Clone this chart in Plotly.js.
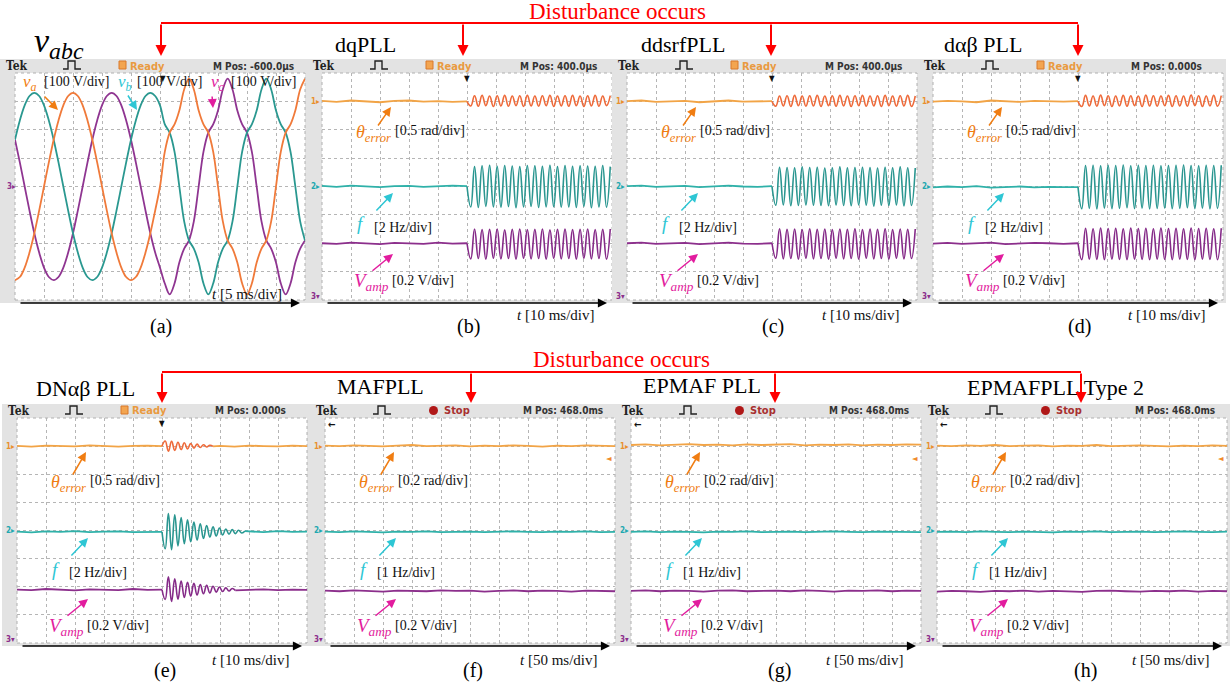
<!DOCTYPE html>
<html>
<head>
<meta charset="utf-8">
<script src="https://cdn.plot.ly/plotly-3.0.1.min.js"></script>
<style>
html,body{margin:0;padding:0;background:#ffffff;overflow:hidden;}
#chart{width:1231px;height:687px;}
</style>
</head>
<body>
<div id="chart"></div>
<script>
// ================= DATA (values in screen divisions) =================
// (a) three-phase voltages, one sample every 1/6 division (5 ms/div)
const va = [-3.30,-3.19,-2.86,-2.33,-1.65,-0.85,0,0.85,1.65,2.33,2.86,3.19,3.30,3.19,2.86,2.33,1.65,0.85,0,-0.85,-1.65,-2.33,-2.86,-3.19,-3.30,-3.19,-2.86,-2.33,-1.65,-0.85,0,
            1.23,1.90,2.19,2.68,3.42,3.80,3.42,2.68,2.19,1.90,1.23,0,-1.23,-1.90,-2.19,-2.68,-3.42,-3.80,-3.42,-2.68,-2.19,-1.90,-1.23,0,1.23,1.90,2.19,2.68,3.42,3.80];
const vb = [1.65,2.33,2.86,3.19,3.30,3.19,2.86,2.33,1.65,0.85,0,-0.85,-1.65,-2.33,-2.86,-3.19,-3.30,-3.19,-2.86,-2.33,-1.65,-0.85,0,0.85,1.65,2.33,2.86,3.19,3.30,3.19,2.86,
            2.19,1.90,1.23,0,-1.23,-1.90,-2.19,-2.68,-3.42,-3.80,-3.42,-2.68,-2.19,-1.90,-1.23,0,1.23,1.90,2.19,2.68,3.42,3.80,3.42,2.68,2.19,1.90,1.23,0,-1.23,-1.90];
const vc = [1.65,0.85,0,-0.85,-1.65,-2.33,-2.86,-3.19,-3.30,-3.19,-2.86,-2.33,-1.65,-0.85,0,0.85,1.65,2.33,2.86,3.19,3.30,3.19,2.86,2.33,1.65,0.85,0,-0.85,-1.65,-2.33,-2.86,
            -3.42,-3.80,-3.42,-2.68,-2.19,-1.90,-1.23,0,1.23,1.90,2.19,2.68,3.42,3.80,3.42,2.68,2.19,1.90,1.23,0,-1.23,-1.90,-2.19,-2.68,-3.42,-3.80,-3.42,-2.68,-2.19,-1.90];

// text content
const panelTags   = ['(a)','(b)','(c)','(d)','(e)','(f)','(g)','(h)'];
const panelTitles = ['dqPLL','ddsrfPLL','dαβ PLL','DNαβ PLL','MAFPLL','EPMAF PLL','EPMAFPLL Type 2'];
const statusText  = ['Ready','Ready','Ready','Ready','Ready','Stop','Stop','Stop'];
const mPosText    = ['M Pos: -600.0µs','M Pos: 400.0µs','M Pos: 400.0µs','M Pos: 0.000s','M Pos: 0.000s','M Pos: 468.0ms','M Pos: 468.0ms','M Pos: 468.0ms'];
const thetaScale  = ['[0.5 rad/div]','[0.5 rad/div]','[0.5 rad/div]','[0.5 rad/div]','[0.2 rad/div]','[0.2 rad/div]','[0.2 rad/div]'];
const freqScale   = ['[2 Hz/div]','[2 Hz/div]','[2 Hz/div]','[2 Hz/div]','[1 Hz/div]','[1 Hz/div]','[1 Hz/div]'];
const ampScale    = ['[0.2 V/div]','[0.2 V/div]','[0.2 V/div]','[0.2 V/div]','[0.2 V/div]','[0.2 V/div]','[0.2 V/div]'];
const timeScale   = ['[10 ms/div]','[10 ms/div]','[10 ms/div]','[10 ms/div]','[50 ms/div]','[50 ms/div]','[50 ms/div]'];
const disturbText = 'Disturbance occurs';

// (b) dqPLL : before (every 0.5 div) / after disturbance (every half period)
const dq_theta_pre  = [3.02,2.98,3.03,3.00,2.97,3.02,3.03,2.99,3.01,2.98,3.00];
const dq_theta_post = [3.00,2.84,3.20,2.83,3.21,2.85,3.19,2.82,3.20,2.84,3.21,2.83,3.19,2.85,3.20,2.82,3.21,2.84,3.19,2.83,3.20,2.85,3.21,2.82,3.19,2.84,3.20,2.83,3.21,2.85,3.19,2.82,3.20,2.84,3.21,2.83,3.19,2.85,3.20];
const dq_f_pre      = [0.02,-0.01,0.03,0.00,-0.02,0.01,0.02,-0.01,0.00,0.03,0.01];
const dq_f_post     = [0.00,-0.72,0.70,-0.74,0.73,-0.70,0.75,-0.72,0.71,-0.73,0.74,-0.71,0.72,-0.75,0.70,-0.72,0.74,-0.70,0.73,-0.74,0.71,-0.72,0.75,-0.71,0.70,-0.73,0.74,-0.72,0.71,-0.74,0.73,-0.70,0.72,-0.75,0.71,-0.72,0.74,-0.73,0.70];
const dq_v_pre      = [-2.00,-2.02,-1.98,-2.01,-2.03,-1.99,-2.00,-2.02,-1.98,-2.01,-2.00];
const dq_v_post     = [-2.00,-2.55,-1.50,-2.54,-1.52,-2.56,-1.51,-2.53,-1.50,-2.55,-1.53,-2.54,-1.51,-2.56,-1.50,-2.53,-1.52,-2.55,-1.51,-2.54,-1.50,-2.56,-1.53,-2.53,-1.51,-2.55,-1.50,-2.54,-1.52,-2.56,-1.51,-2.53,-1.50,-2.55,-1.52,-2.54,-1.51,-2.56,-1.50];
// (c) ddsrfPLL
const dd_theta_pre  = [3.01,3.03,2.98,3.00,3.02,2.97,3.01,3.03,2.99,3.00,3.01];
const dd_theta_post = [3.00,2.83,3.19,2.84,3.20,2.82,3.21,2.85,3.19,2.83,3.20,2.84,3.21,2.82,3.19,2.85,3.20,2.83,3.21,2.84,3.19,2.82,3.20,2.85,3.21,2.83,3.19,2.84,3.20,2.82,3.21,2.85,3.19,2.83,3.20,2.84,3.21,2.82,3.19];
const dd_f_pre      = [0.01,0.03,-0.01,0.00,0.02,-0.02,0.01,0.03,0.00,-0.01,0.01];
const dd_f_post     = [0.00,-0.66,0.68,-0.65,0.67,-0.68,0.66,-0.67,0.69,-0.65,0.67,-0.66,0.68,-0.67,0.65,-0.68,0.66,-0.65,0.69,-0.67,0.66,-0.68,0.67,-0.65,0.68,-0.66,0.67,-0.69,0.65,-0.66,0.68,-0.67,0.66,-0.65,0.69,-0.68,0.66,-0.67,0.65];
const dd_v_pre      = [-2.00,-1.98,-2.02,-2.01,-1.99,-2.03,-2.00,-1.98,-2.01,-2.02,-2.00];
const dd_v_post     = [-2.00,-2.53,-1.49,-2.55,-1.51,-2.54,-1.50,-2.56,-1.52,-2.53,-1.49,-2.55,-1.51,-2.54,-1.50,-2.56,-1.52,-2.53,-1.50,-2.55,-1.51,-2.54,-1.49,-2.56,-1.52,-2.53,-1.50,-2.55,-1.51,-2.54,-1.49,-2.56,-1.52,-2.53,-1.50,-2.55,-1.51,-2.54,-1.50];
// (d) dαβ PLL
const da_theta_pre  = [2.99,3.02,3.00,2.97,3.03,3.01,2.98,3.02,3.00,2.99,3.01];
const da_theta_post = [3.00,2.82,3.21,2.84,3.19,2.83,3.22,2.85,3.20,2.82,3.19,2.84,3.21,2.83,3.20,2.85,3.19,2.82,3.22,2.84,3.20,2.83,3.19,2.85,3.21,2.82,3.20,2.84,3.19,2.83,3.22,2.85,3.20,2.82,3.19,2.84,3.21,2.83,3.20];
const da_f_pre      = [-0.03,0.00,-0.02,0.01,-0.04,-0.01,0.00,-0.03,-0.01,-0.02,-0.02];
const da_f_post     = [-0.02,-0.78,0.74,-0.77,0.75,-0.79,0.73,-0.76,0.75,-0.78,0.74,-0.77,0.76,-0.75,0.73,-0.78,0.75,-0.76,0.74,-0.79,0.75,-0.77,0.73,-0.76,0.74,-0.78,0.75,-0.77,0.76,-0.75,0.74,-0.78,0.73,-0.76,0.75,-0.79,0.74,-0.77,0.75];
const da_v_pre      = [-2.01,-1.99,-2.02,-2.00,-1.98,-2.03,-2.01,-1.99,-2.00,-2.02,-2.00];
const da_v_post     = [-2.00,-2.58,-1.47,-2.56,-1.49,-2.57,-1.46,-2.58,-1.48,-2.56,-1.47,-2.57,-1.49,-2.58,-1.46,-2.56,-1.48,-2.57,-1.47,-2.58,-1.49,-2.56,-1.46,-2.57,-1.48,-2.58,-1.47,-2.56,-1.49,-2.57,-1.46,-2.58,-1.48,-2.56,-1.47,-2.57,-1.49,-2.58,-1.47];
// (e) DNαβ PLL : before / decaying transient / settled
const dn_theta_pre  = [3.01,2.98,3.02,3.00,2.99,3.03,3.00,2.98,3.01,3.02,3.00];
const dn_theta_post = [3.00,3.18,2.82,3.17,2.85,3.14,2.88,3.12,2.90,3.09,2.93,3.07,2.95,3.05,2.97,3.03,2.99];
const dn_theta_tail = [3.01,2.98,3.02,3.00,2.99,3.02,3.00];
const dn_f_pre      = [-0.04,-0.07,-0.03,-0.05,-0.02,-0.06,-0.04,-0.03,-0.06,-0.05,-0.05];
const dn_f_post     = [-0.05,-0.65,0.60,-0.68,0.56,-0.55,0.46,-0.47,0.38,-0.40,0.30,-0.34,0.24,-0.28,0.18,-0.23,0.13,-0.19,0.09,-0.16,0.05,-0.13,0.03,-0.11,0.01,-0.09,-0.02];
const dn_f_tail     = [-0.03,-0.06,-0.02,-0.05,-0.04];
const dn_v_pre      = [-2.10,-2.12,-2.08,-2.11,-2.13,-2.09,-2.10,-2.12,-2.08,-2.11,-2.10];
const dn_v_post     = [-2.10,-2.45,-1.65,-2.52,-1.72,-2.44,-1.80,-2.38,-1.84,-2.33,-1.88,-2.29,-1.92,-2.25,-1.95,-2.22,-1.98,-2.19,-2.01,-2.17,-2.04,-2.15,-2.06,-2.13];
const dn_v_tail     = [-2.11,-2.09,-2.12,-2.10,-2.11];
// (f) MAFPLL (every 0.5 div)
const maf_theta = [3.02,3.00,3.03,3.01,2.99,3.02,3.04,3.00,3.01,3.03,2.99,3.02,3.00,3.03,3.01,2.98,3.02,3.00,3.03,3.01,3.00];
const maf_f     = [-0.04,-0.06,-0.03,-0.05,-0.07,-0.04,-0.05,-0.03,-0.06,-0.05,-0.04,-0.06,-0.05,-0.03,-0.05,-0.06,-0.04,-0.05,-0.03,-0.06,-0.05];
const maf_v     = [-2.14,-2.16,-2.13,-2.15,-2.17,-2.14,-2.15,-2.16,-2.13,-2.15,-2.14,-2.17,-2.15,-2.13,-2.16,-2.14,-2.15,-2.17,-2.14,-2.15,-2.16];
// (g) EPMAF PLL
const ep_theta  = [3.04,3.06,3.03,3.05,3.07,3.04,3.05,3.03,3.06,3.04,3.05,3.07,3.03,3.05,3.04,3.06,3.03,3.05,3.04,3.06,3.05];
const ep_f      = [-0.05,-0.03,-0.06,-0.04,-0.05,-0.07,-0.04,-0.05,-0.03,-0.06,-0.05,-0.04,-0.06,-0.05,-0.03,-0.05,-0.06,-0.04,-0.05,-0.04,-0.06];
const ep_v      = [-2.15,-2.13,-2.16,-2.14,-2.15,-2.17,-2.14,-2.13,-2.16,-2.15,-2.14,-2.16,-2.13,-2.15,-2.17,-2.14,-2.15,-2.13,-2.16,-2.14,-2.15];
// (h) EPMAFPLL Type 2
const ep2_theta = [3.02,3.00,3.03,3.01,3.04,3.00,3.02,3.03,2.99,3.02,3.01,3.04,3.00,3.02,3.03,3.01,2.99,3.02,3.00,3.03,3.01];
const ep2_f     = [-0.05,-0.04,-0.06,-0.03,-0.05,-0.06,-0.04,-0.05,-0.07,-0.04,-0.05,-0.03,-0.06,-0.05,-0.04,-0.06,-0.05,-0.03,-0.05,-0.06,-0.04];
const ep2_v     = [-2.17,-2.15,-2.16,-2.18,-2.15,-2.16,-2.14,-2.17,-2.15,-2.16,-2.18,-2.15,-2.14,-2.16,-2.17,-2.15,-2.16,-2.14,-2.17,-2.15,-2.16];

// ================= GEOMETRY / STYLE =================
const W = 1231, H = 687;
const SERIF = 'Liberation Serif, Times New Roman, serif';
const COND  = 'DejaVu Sans Condensed, DejaVu Sans, sans-serif';
const panels = [
  {gl:15,  gr:305,  gt:73,  gb:300},
  {gl:322, gr:612,  gt:73,  gb:300},
  {gl:627, gr:917,  gt:73,  gb:300},
  {gl:933, gr:1223, gt:73,  gb:300},
  {gl:17,  gr:307,  gt:418, gb:643},
  {gl:325, gr:615,  gt:418, gb:643},
  {gl:631, gr:921,  gt:418, gb:643},
  {gl:937, gr:1227, gt:418, gb:643}
];
const titlePos = [[365,44],[683,44],[983,44],[85,388],[380,386],[702,385],[1055,387]];
const chFlat = ['#f2a446','#2fb1a9','#8c2f8c'];
const chOsc  = ['#ee6a3a','#2a9690','#852a88'];
const labCol = ['#f07d12','#2ec6d4','#e21c9e'];

const pllSeries = [
  {pre:[dq_theta_pre,dq_f_pre,dq_v_pre], post:[dq_theta_post,dq_f_post,dq_v_post], step:0.13},
  {pre:[dd_theta_pre,dd_f_pre,dd_v_pre], post:[dd_theta_post,dd_f_post,dd_v_post], step:0.13},
  {pre:[da_theta_pre,da_f_pre,da_v_pre], post:[da_theta_post,da_f_post,da_v_post], step:0.13},
  {pre:[dn_theta_pre,dn_f_pre,dn_v_pre], post:[dn_theta_post,dn_f_post,dn_v_post], tail:[dn_theta_tail,dn_f_tail,dn_v_tail], step:0.11},
  {flat:[maf_theta,maf_f,maf_v]},
  {flat:[ep_theta,ep_f,ep_v]},
  {flat:[ep2_theta,ep2_f,ep2_v]}
];

// ================= BUILD =================
function xsFrom(start, step, n){ const a=[]; for(let i=0;i<n;i++) a.push(+(start+i*step).toFixed(4)); return a; }
const traces = [];
function seg(sp, xs, ys, color, width, shape, smooth){
  const s = sp===0 ? '' : String(sp+1);
  traces.push({type:'scatter', mode:'lines', x:xs, y:ys, xaxis:'x'+s, yaxis:'y'+s,
    line:{color:color, width:width, shape:shape, smoothing:smooth||1}, hoverinfo:'skip', showlegend:false});
}

// (a)
const kx = xsFrom(0, 1/6, va.length);
seg(0, kx, vc, '#8f3591', 1.8, 'spline');
seg(0, kx, vb, '#2a9890', 1.8, 'spline');
seg(0, kx, va, '#f07a3a', 1.8, 'spline');

// PLL panels
pllSeries.forEach((s, j) => {
  const sp = j + 1;
  if (s.flat) {
    s.flat.forEach((arr, c) => seg(sp, xsFrom(0, 0.5, arr.length), arr, chFlat[c], 1.8, 'linear'));
    return;
  }
  for (let c = 0; c < 3; c++) {
    const pre = s.pre[c], post = s.post[c];
    seg(sp, xsFrom(0, 0.5, pre.length), pre, chFlat[c], 1.8, 'linear');
    const px = xsFrom(5, s.step, post.length);
    seg(sp, px, post, chOsc[c], 1.6, 'spline', 1.3);
    if (s.tail) {
      const t = s.tail[c];
      const tx = xsFrom(10 - 0.5*(t.length-1), 0.5, t.length);
      seg(sp, [px[px.length-1]].concat(tx), [post[post.length-1]].concat(t), chFlat[c], 1.8, 'linear');
    }
  }
});

const layout = {
  width: W, height: H, margin:{l:0,r:0,t:0,b:0,pad:0},
  paper_bgcolor:'#ffffff', plot_bgcolor:'rgba(0,0,0,0)', showlegend:false,
  shapes:[], annotations:[]
};
const S = layout.shapes, A = layout.annotations;
const PX = x => x / W, PY = y => 1 - y / H;

panels.forEach((p, i) => {
  const s = i===0 ? '' : String(i+1);
  const common = {showgrid:true, dtick:1, tick0:0, gridcolor:'#b5b5b5', griddash:'dot', gridwidth:1,
    zeroline:false, showticklabels:false, ticks:'', showline:false, fixedrange:true};
  layout['xaxis'+s] = Object.assign({domain:[PX(p.gl), PX(p.gr)], range:[0,10], anchor:'y'+s}, common);
  layout['yaxis'+s] = Object.assign({domain:[PY(p.gb), PY(p.gt)], range:[-4,4], anchor:'x'+s}, common);
});

function rect(x0,y0,x1,y1,fill,line,layer){
  S.push({type:'rect', xref:'paper', yref:'paper', x0:PX(x0), x1:PX(x1), y0:PY(y1), y1:PY(y0),
    fillcolor:fill, line:line||{width:0}, layer:layer||'below'});
}
function path(pts, color, width, layer){
  const d = pts.map((q,k)=> (k?'L':'M') + PX(q[0]) + ',' + PY(q[1])).join(' ');
  S.push({type:'path', xref:'paper', yref:'paper', path:d, line:{color:color, width:width}, layer:layer||'above'});
}
function txt(x,y,text,size,color,opts){
  A.push(Object.assign({xref:'paper', yref:'paper', x:PX(x), y:PY(y), text:text, showarrow:false,
    xanchor:'left', yanchor:'middle', font:{family:SERIF, size:size, color:color}}, opts||{}));
}
function arrow(hx,hy,tx,ty,color,width,size){
  A.push({xref:'paper', yref:'paper', x:PX(hx), y:PY(hy), ax:tx-hx, ay:ty-hy, axref:'pixel', ayref:'pixel',
    text:'', showarrow:true, arrowhead:2, arrowsize:size||1, arrowwidth:width||1.5, arrowcolor:color});
}
const lvl = (p, v) => p.gt + (4 - v) * (p.gb - p.gt) / 8;

// frames, screens, headers
panels.forEach((p, i) => {
  rect(p.gl-15, p.gt-14, p.gr+3, p.gb+3, '#e3e3e3');
  rect(p.gl, p.gt, p.gr, p.gb, '#ffffff', {color:'#b0b0b0', width:1, dash:'dot'});
  const hy = p.gt - 7;
  txt(p.gl-11, hy, '<b>Tek</b>', 12, '#222', {font:{family:'DejaVu Serif Condensed, DejaVu Serif, serif', size:12, color:'#222'}});
  path([[p.gl+48,p.gt-4],[p.gl+53,p.gt-4],[p.gl+53,p.gt-12],[p.gl+60,p.gt-12],[p.gl+60,p.gt-4],[p.gl+66,p.gt-4]], '#222', 1.4);
  if (statusText[i] === 'Ready') {
    rect(p.gl+104, p.gt-12, p.gl+111, p.gt-4, '#f3a550', {color:'#d9782a', width:1}, 'above');
    txt(p.gl+113, hy, '<b>Ready</b>', 11, '#e99a40', {font:{family:COND, size:11, color:'#e99a40'}});
  } else {
    S.push({type:'circle', xref:'paper', yref:'paper', x0:PX(p.gl+104), x1:PX(p.gl+113), y0:PY(p.gt-3), y1:PY(p.gt-12),
      fillcolor:'#b01818', line:{width:0}, layer:'above'});
    txt(p.gl+117, hy, '<b>Stop</b>', 11, '#a83030', {font:{family:COND, size:11, color:'#a83030'}});
  }
  txt(p.gl+196, hy, '<b>' + mPosText[i] + '</b>', 10, '#333', {font:{family:COND, size:10, color:'#333'}});
  // time axis arrow
  arrow(p.gr-5, p.gb+3, p.gl+4, p.gb+3, '#000', 1.4, 1.3);
  // panel tag
  txt(p.gl + (i<4 ? 146 : 148), p.gb + (i<4 ? 26 : 27), panelTags[i], 20, '#000', {xanchor:'center'});
  // trigger markers
  if (i < 5) {
    txt(p.gl + (i===0 ? 148 : 145), p.gt+5, '▼', 8, '#111', {xanchor:'center', font:{family:COND, size:8, color:'#111'}});
  } else {
    txt(p.gl+1, p.gt+6, '<b>←</b>', 10, '#111', {font:{family:COND, size:10, color:'#111'}});
    txt(p.gr-1, lvl(p, 2.55), '◄', 8, '#f08a2a', {xanchor:'right', font:{family:COND, size:8, color:'#f08a2a'}});
  }
});

// (a) annotations
(function(){
  const p = panels[0];
  txt(5, lvl(p,0), '<b>3▸</b>', 8, '#8f3591', {font:{family:COND, size:8, color:'#8f3591'}});
  txt(32, 43, '<i>v<sub>abc</sub></i>', 34, '#000');
  txt(21, 83, '<i>v<sub>a</sub></i>', 17, labCol[0]);
  txt(42, 82, '[100 V/div]', 14, '#111');
  txt(116, 83, '<i>v<sub>b</sub></i>', 17, labCol[1]);
  txt(135, 82, '[100 V/div]', 14, '#111');
  txt(209, 83, '<i>v<sub>c</sub></i>', 17, labCol[2]);
  txt(229, 82, '[100 V/div]', 14, '#111');
  arrow(58, 110, 43, 95, labCol[0], 1.5, 1.2);
  arrow(137, 110, 127, 94, labCol[1], 1.5, 1.2);
  arrow(213, 108, 212, 95, labCol[2], 1.5, 1.2);
  txt(210, 294, '<i>t</i> [5 ms/div]', 15, '#111');
})();

// PLL panel annotations
panelTitles.forEach((t, j) => {
  const p = panels[j+1];
  const top = j < 3;
  txt(titlePos[j][0], titlePos[j][1], t, 22, '#000', {xanchor:'center'});
  const thY = p.gt + (top ? 59 : 63);
  txt(p.gl+32, thY+2, '<i>θ<sub>error</sub></i>', 18, labCol[0]);
  txt(p.gl+71, thY-1, thetaScale[j], 14, '#111');
  arrow(p.gl+69, p.gt+34, p.gl+55, thY-5, labCol[0], 1.5, 1.2);
  txt(p.gl+33, p.gt+151, '<i>f</i>', 19, labCol[1]);
  txt(p.gl+50, p.gt+154, freqScale[j], 14, '#111');
  arrow(p.gl+71, p.gt+120, p.gl+53, p.gt+139, labCol[1], 1.5, 1.2);
  txt(p.gl+30, p.gt+209, '<i>V<sub>amp</sub></i>', 19, labCol[2]);
  txt(p.gl+68, p.gt+207, ampScale[j], 14, '#111');
  arrow(p.gl+71, p.gt+181, p.gl+49, p.gt+199, labCol[2], 1.5, 1.2);
  txt(p.gl+193, p.gb + (top ? 15 : 17), '<i>t</i> ' + timeScale[j], 15, '#111');
  // channel markers
  txt(p.gl-13, lvl(p,3), '<b>1▸</b>', 8, chFlat[0], {font:{family:COND, size:8, color:'#e9902e'}});
  txt(p.gl-13, lvl(p,0), '<b>2▸</b>', 8, chFlat[1], {font:{family:COND, size:8, color:'#22a8b0'}});
  txt(p.gl-13, p.gb-4, '<b>3▾</b>', 8, chFlat[2], {font:{family:COND, size:8, color:'#8c2f8c'}});
});

// Disturbance indicators
const RED = '#ff0000';
S.push({type:'line', xref:'paper', yref:'paper', x0:PX(161), x1:PX(1078), y0:PY(23), y1:PY(23), line:{color:RED, width:2}, layer:'above'});
[161, 463, 771, 1078].forEach(x => arrow(x, 56, x, 23, RED, 2, 1.1));
txt(617, 11, disturbText, 23, RED, {xanchor:'center'});
S.push({type:'line', xref:'paper', yref:'paper', x0:PX(162), x1:PX(1081), y0:PY(372), y1:PY(372), line:{color:RED, width:2}, layer:'above'});
[162, 471, 775, 1081].forEach(x => arrow(x, 403, x, 372, RED, 2, 1.1));
txt(621, 359, disturbText, 23, RED, {xanchor:'center'});

Plotly.newPlot('chart', traces, layout, {staticPlot:true, displayModeBar:false});
</script>
</body>
</html>
